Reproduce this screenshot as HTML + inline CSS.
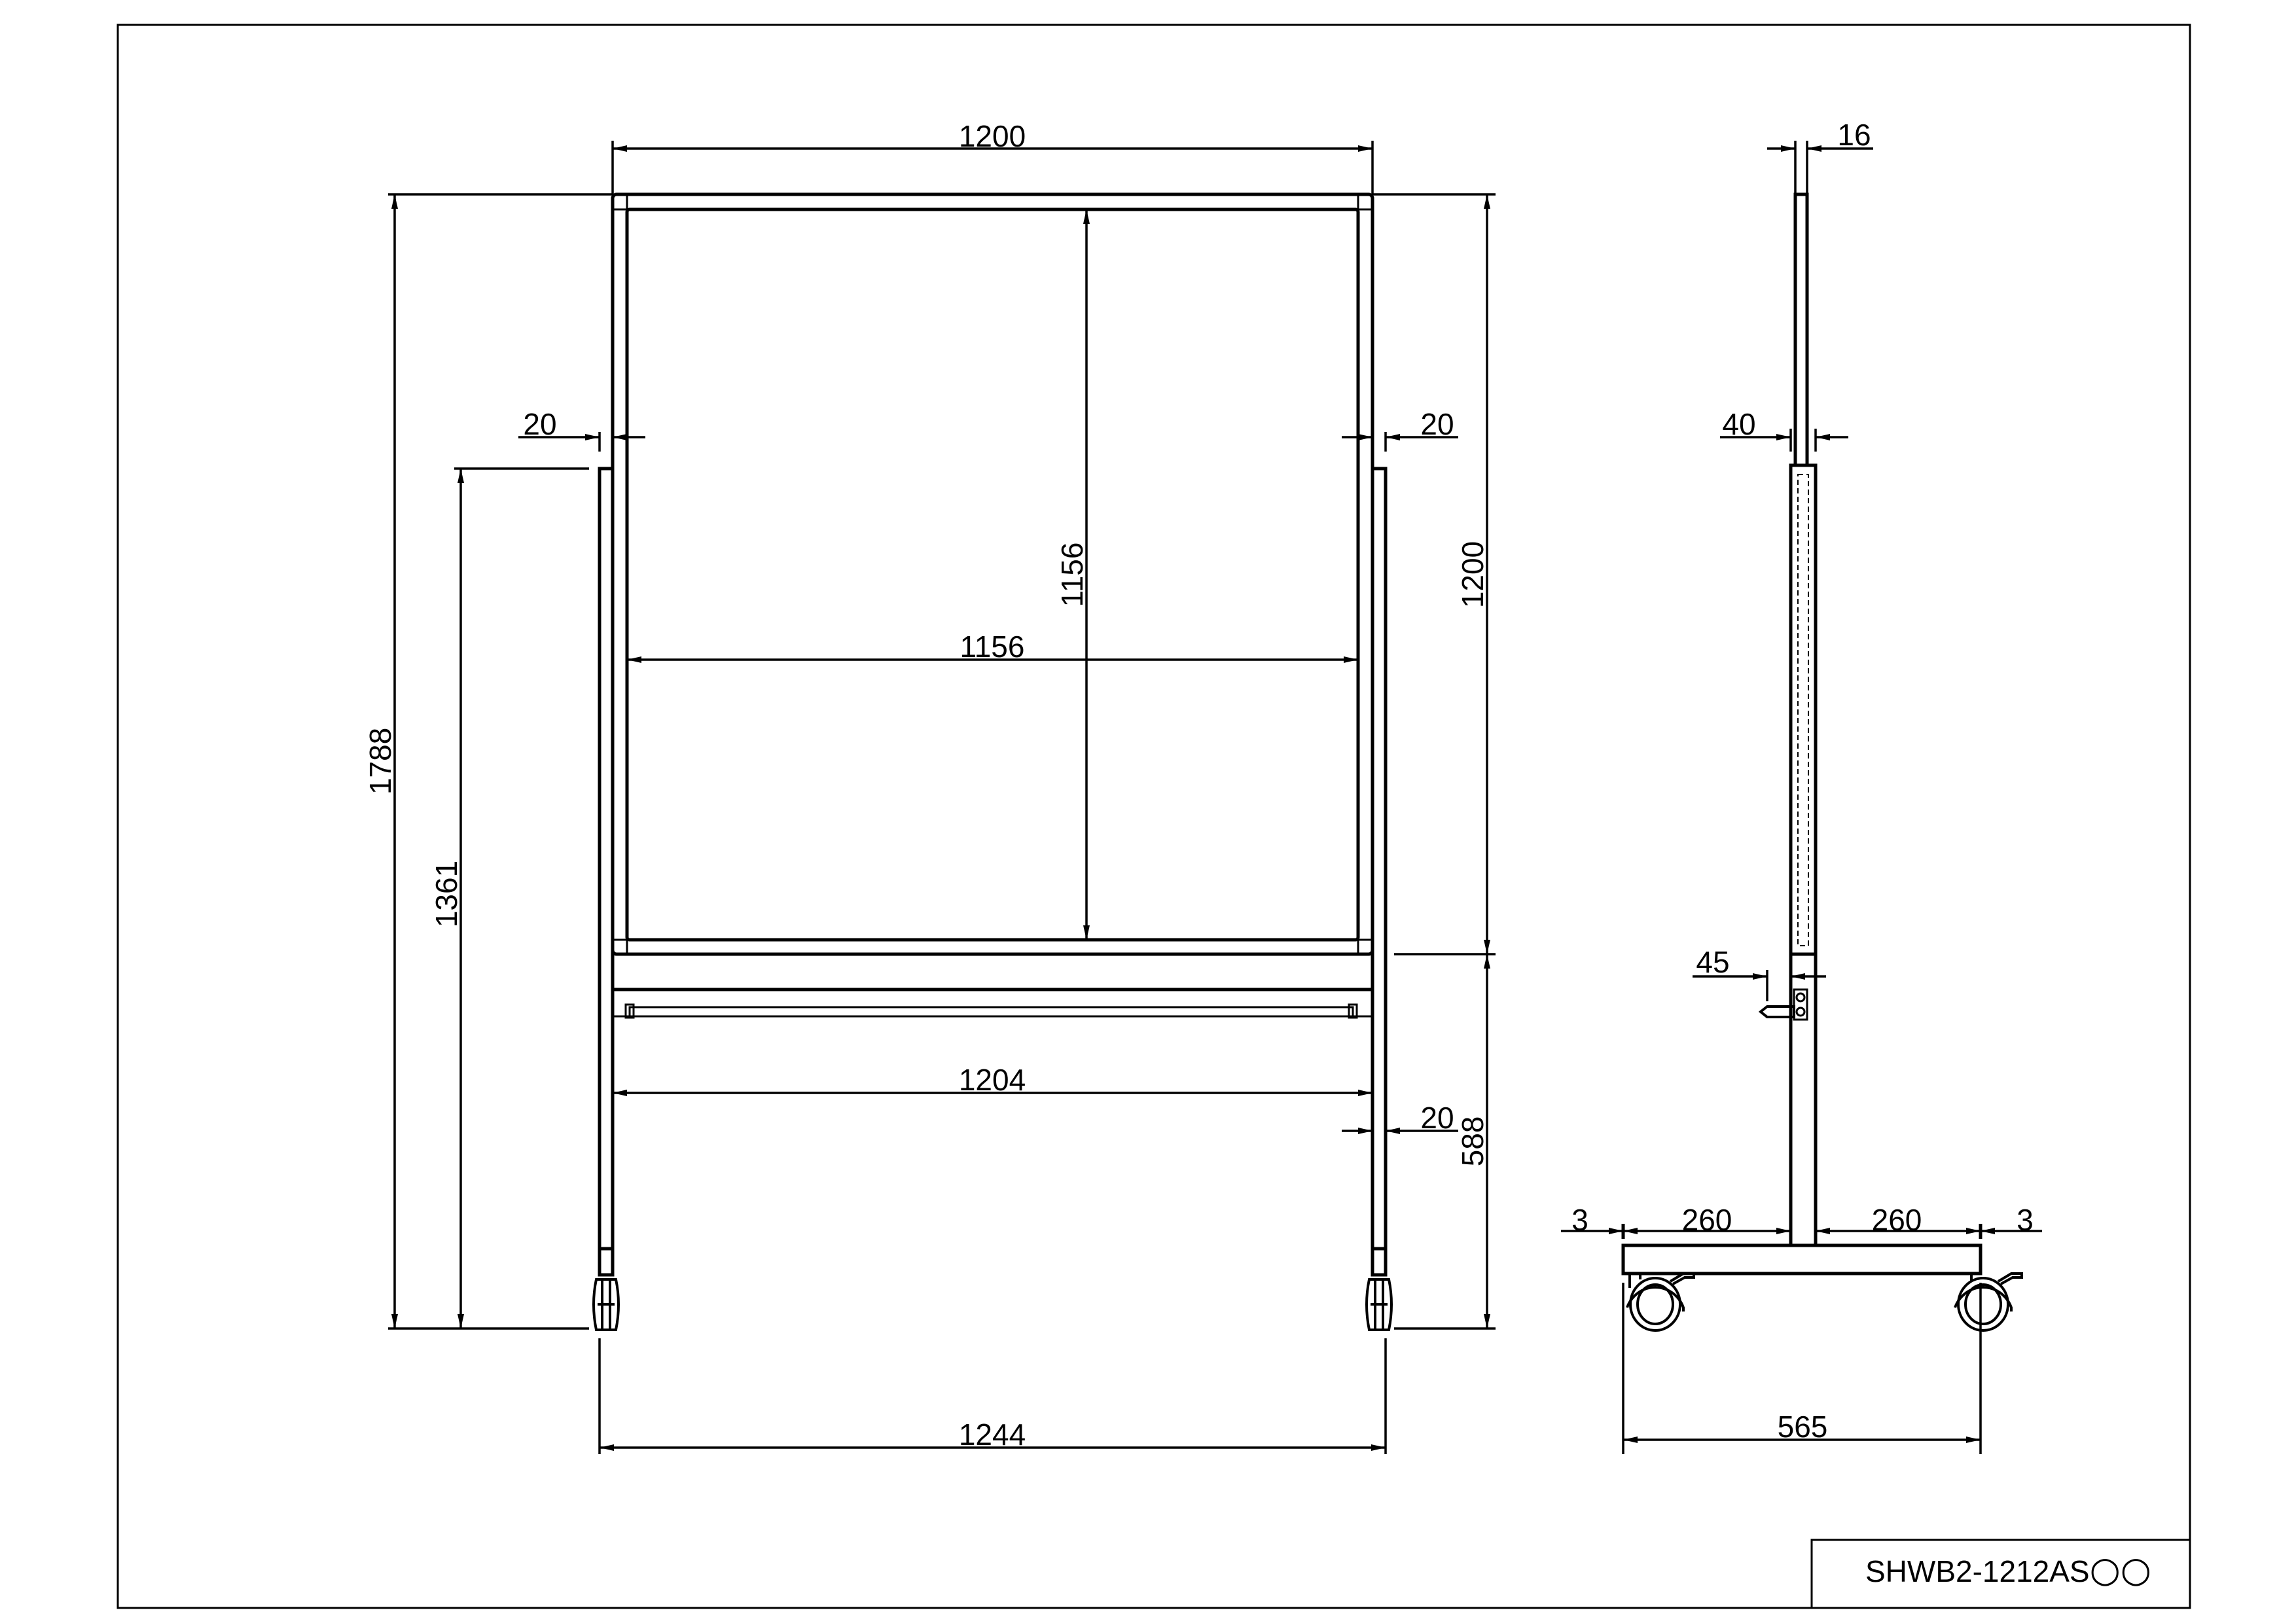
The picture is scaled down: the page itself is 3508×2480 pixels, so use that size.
<!DOCTYPE html>
<html><head><meta charset="utf-8"><style>
html,body{margin:0;padding:0;background:#fff;}
svg{display:block;}
text{font-family:"Liberation Sans",sans-serif;font-size:46px;fill:#000;}
</style></head><body>
<svg width="3508" height="2480" viewBox="0 0 3508 2480" xmlns="http://www.w3.org/2000/svg">
<defs>
<marker id="a" markerUnits="userSpaceOnUse" markerWidth="22" markerHeight="10" refX="22" refY="5" orient="auto-start-reverse">
<path d="M0,0 L22,5 L0,10 Z" fill="#000"/>
</marker>
</defs>
<g fill="none" stroke="#000" stroke-width="3">
<rect x="180" y="38" width="3166" height="2419"/>
<rect x="2768" y="2353" width="578" height="104"/>
</g>
<text x="2850" y="2417">SHWB2-1212AS<tspan font-family="DejaVu Sans" font-size="54">○○</tspan></text>

<!-- FRONT VIEW -->
<g fill="none" stroke="#000" stroke-width="5">
<rect x="936" y="297" width="1161" height="1161" rx="6"/>
<rect x="958" y="320" width="1117" height="1116" rx="4"/>
<path d="M958,297 V320 H936 M2075,297 V320 H2097 M958,1458 V1436 H936 M2075,1458 V1436 H2097" stroke-width="3"/>
<rect x="916" y="716" width="20" height="1192"/>
<rect x="2097" y="716" width="20" height="1192"/>
<rect x="916" y="1908" width="20" height="40"/>
<rect x="2097" y="1908" width="20" height="40"/>
<path d="M911,1955 Q903,1993 911,2032 H941 Q949,1993 941,1955 Z M913,1993 H939 M920,1955 V2032 M932,1955 V2032" stroke-width="4"/>
<path d="M2092,1955 Q2084,1993 2092,2032 H2122 Q2130,1993 2122,1955 Z M2094,1993 H2120 M2101,1955 V2032 M2113,1955 V2032" stroke-width="4"/>
<line x1="936" y1="1512" x2="2097" y2="1512"/>
<line x1="936" y1="1553" x2="2097" y2="1553" stroke-width="3"/>
<rect x="962" y="1539" width="1105" height="14" stroke-width="3"/>
<rect x="956" y="1535" width="12" height="20" stroke-width="3"/>
<rect x="2061" y="1535" width="12" height="20" stroke-width="3"/>
</g>

<g fill="none" stroke="#000" stroke-width="3.5">
<path d="M936,215 V297 M2097,215 V297"/>
<line x1="936" y1="227" x2="2097" y2="227" marker-start="url(#a)" marker-end="url(#a)"/>
<path d="M593,297 H936 M593,2030 H900"/>
<line x1="603" y1="297" x2="603" y2="2030" marker-start="url(#a)" marker-end="url(#a)"/>
<path d="M694,716 H900"/>
<line x1="704" y1="716" x2="704" y2="2030" marker-start="url(#a)" marker-end="url(#a)"/>
<path d="M2097,297 H2285 M2130,1458 H2285 M2130,2030 H2285"/>
<line x1="2272" y1="297" x2="2272" y2="1458" marker-start="url(#a)" marker-end="url(#a)"/>
<line x1="2272" y1="1458" x2="2272" y2="2030" marker-start="url(#a)" marker-end="url(#a)"/>
<line x1="1660" y1="320" x2="1660" y2="1436" marker-start="url(#a)" marker-end="url(#a)"/>
<line x1="958" y1="1008" x2="2075" y2="1008" marker-start="url(#a)" marker-end="url(#a)"/>
<path d="M916,660 V690"/>
<line x1="792" y1="668" x2="916" y2="668" marker-end="url(#a)"/>
<line x1="986" y1="668" x2="936" y2="668" marker-end="url(#a)"/>
<path d="M2117,660 V690"/>
<line x1="2050" y1="668" x2="2097" y2="668" marker-end="url(#a)"/>
<line x1="2228" y1="668" x2="2117" y2="668" marker-end="url(#a)"/>
<line x1="2050" y1="1728" x2="2097" y2="1728" marker-end="url(#a)"/>
<line x1="2228" y1="1728" x2="2117" y2="1728" marker-end="url(#a)"/>
<line x1="936" y1="1670" x2="2097" y2="1670" marker-start="url(#a)" marker-end="url(#a)"/>
<path d="M916,2045 V2222 M2117,2045 V2222"/>
<line x1="916" y1="2212" x2="2117" y2="2212" marker-start="url(#a)" marker-end="url(#a)"/>
</g>
<text x="1516" y="224" text-anchor="middle">1200</text>
<text transform="translate(597,1163) rotate(-90)" text-anchor="middle">1788</text>
<text transform="translate(698,1366) rotate(-90)" text-anchor="middle">1361</text>
<text transform="translate(2266,878) rotate(-90)" text-anchor="middle">1200</text>
<text transform="translate(2266,1744) rotate(-90)" text-anchor="middle">588</text>
<text transform="translate(1654,878) rotate(-90)" text-anchor="middle">1156</text>
<text x="1516" y="1004" text-anchor="middle">1156</text>
<text x="825" y="664" text-anchor="middle">20</text>
<text x="2196" y="664" text-anchor="middle">20</text>
<text x="2196" y="1724" text-anchor="middle">20</text>
<text x="1516" y="1666" text-anchor="middle">1204</text>
<text x="1516" y="2208" text-anchor="middle">1244</text>

<!-- SIDE VIEW -->
<g fill="none" stroke="#000" stroke-width="5">
<rect x="2743" y="297" width="18" height="414"/>
<rect x="2736" y="711" width="38" height="747"/>
<rect x="2747" y="725" width="16" height="720" stroke-width="2" stroke-dasharray="8,5"/>
<path d="M2736,1458 V1903 M2774,1458 V1903"/>
<rect x="2480" y="1903" width="546" height="43"/>
<path d="M2700,1538 H2741 V1554 H2700 L2690,1546 Z" stroke-width="4"/>
<rect x="2741" y="1512" width="20" height="46" stroke-width="3"/>
<circle cx="2751" cy="1524" r="6" stroke-width="3"/>
<circle cx="2751" cy="1546" r="6" stroke-width="3"/>
<g stroke-width="4">
<ellipse cx="2529" cy="1993" rx="38" ry="40"/>
<ellipse cx="2529" cy="1993" rx="27" ry="30"/>
<path d="M2486,1998 A46,48 0 0 1 2572,1998 V2004"/>
<path d="M2490,1946 V1968 M2506,1946 V1955 M2552,1958 L2572,1946 H2588 V1952 H2574 L2556,1962"/>
<ellipse cx="3030" cy="1993" rx="38" ry="40"/>
<ellipse cx="3030" cy="1993" rx="27" ry="30"/>
<path d="M2987,1998 A46,48 0 0 1 3073,1998 V2004"/>
<path d="M3012,1946 V1958 M3053,1958 L3073,1946 H3089 V1952 H3075 L3057,1962"/>
</g>
</g>
<g fill="none" stroke="#000" stroke-width="3.5">
<path d="M2743,215 V297 M2761,215 V297"/>
<line x1="2700" y1="227" x2="2743" y2="227" marker-end="url(#a)"/>
<line x1="2862" y1="227" x2="2761" y2="227" marker-end="url(#a)"/>
<path d="M2736,655 V690 M2774,655 V690"/>
<line x1="2628" y1="668" x2="2736" y2="668" marker-end="url(#a)"/>
<line x1="2824" y1="668" x2="2774" y2="668" marker-end="url(#a)"/>
<path d="M2700,1482 V1530 M2736,1482 V1530"/>
<line x1="2586" y1="1492" x2="2700" y2="1492" marker-end="url(#a)"/>
<line x1="2790" y1="1492" x2="2736" y2="1492" marker-end="url(#a)"/>
<path d="M2480,1870 V1893 M3026,1870 V1893" stroke-width="5"/>
<line x1="2385" y1="1881" x2="2480" y2="1881" marker-end="url(#a)"/>
<line x1="2480" y1="1881" x2="2736" y2="1881" marker-start="url(#a)" marker-end="url(#a)"/>
<line x1="2774" y1="1881" x2="3026" y2="1881" marker-start="url(#a)" marker-end="url(#a)"/>
<line x1="3120" y1="1881" x2="3026" y2="1881" marker-end="url(#a)"/>
<path d="M2480,1960 V2222 M3026,1960 V2222"/>
<line x1="2480" y1="2200" x2="3026" y2="2200" marker-start="url(#a)" marker-end="url(#a)"/>
</g>
<text x="2833" y="222" text-anchor="middle">16</text>
<text x="2657" y="664" text-anchor="middle">40</text>
<text x="2617" y="1486" text-anchor="middle">45</text>
<text x="2414" y="1880" text-anchor="middle">3</text>
<text x="2608" y="1880" text-anchor="middle">260</text>
<text x="2898" y="1880" text-anchor="middle">260</text>
<text x="3094" y="1880" text-anchor="middle">3</text>
<text x="2754" y="2196" text-anchor="middle">565</text>
</svg>
</body></html>
